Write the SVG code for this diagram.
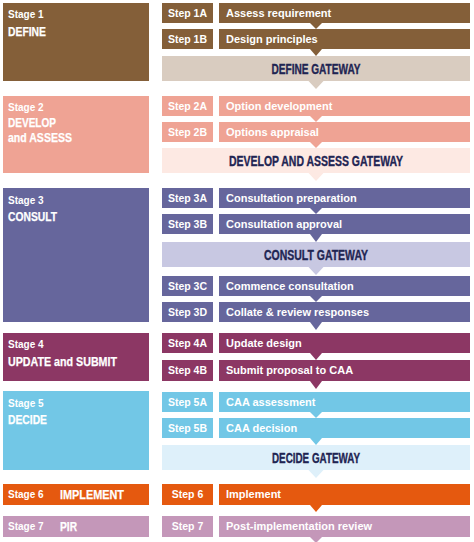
<svg xmlns="http://www.w3.org/2000/svg" width="474" height="542" viewBox="0 0 474 542">
<style>
text{font-family:"Liberation Sans",Arial,sans-serif;font-weight:bold;fill:#fff}
.sl{font-size:10px}
.st{font-size:12.5px;stroke:#fff;stroke-width:0.25}
.sp{font-size:10.5px;text-anchor:middle}
.ds{font-size:11px}
.gw{font-size:14px;fill:#1f2553;stroke:#1f2553;stroke-width:0.35;text-anchor:middle}
.c1{fill:#845f39}.g1{fill:#d9ccc0}
.c2{fill:#efa394}.g2{fill:#fde9e3}
.c3{fill:#66669c}.g3{fill:#c8c8e2}
.c4{fill:#8c3764}
.c5{fill:#72c7e6}.g5{fill:#def0fa}
.c6{fill:#e5590f}
.c7{fill:#c497b9}
</style>
<rect width="474" height="542" fill="#fff"/>
<g id="connectors">
<polygon class="c1" points="310,23 322,23 316,29"/>
<polygon class="c1" points="310,49 322,49 316,56"/>
<polygon class="g1" points="308.5,81 323.5,81 316,89"/>
<polygon class="c2" points="310,116 322,116 316,122"/>
<polygon class="c2" points="310,142 322,142 316,148"/>
<polygon class="g2" points="308.5,173 323.5,173 316,181"/>
<polygon class="c3" points="310,208 322,208 316,214"/>
<polygon class="c3" points="310,234 322,234 316,242"/>
<polygon class="g3" points="308.5,267 323.5,267 316,275"/>
<polygon class="c3" points="310,296 322,296 316,302"/>
<polygon class="c3" points="310,322 322,322 316,330"/>
<polygon class="c4" points="310,353 322,353 316,360"/>
<polygon class="c4" points="310,381 322,381 316,389"/>
<polygon class="c5" points="310,412 322,412 316,418"/>
<polygon class="c5" points="310,438 322,438 316,445"/>
<polygon class="g5" points="308.5,470 323.5,470 316,478"/>
<polygon class="c6" points="310,505 322,505 316,512"/>
<polygon class="c7" points="310,537 322,537 316,543"/>
</g>
<g id="stage1">
<rect class="c1" x="3" y="3" width="146" height="78"/>
<text class="sl" x="8" y="18">Stage 1</text>
<text class="st" x="8" y="36" textLength="38" lengthAdjust="spacingAndGlyphs">DEFINE</text>
</g>
<g id="step1A">
<rect class="c1" x="162" y="3" width="51" height="20"/>
<rect class="c1" x="219" y="3" width="251" height="20"/>
<text class="sp" x="187.5" y="17">Step 1A</text>
<text class="ds" x="226" y="17">Assess requirement</text>
</g>
<g id="step1B">
<rect class="c1" x="162" y="29" width="51" height="20"/>
<rect class="c1" x="219" y="29" width="251" height="20"/>
<text class="sp" x="187.5" y="43">Step 1B</text>
<text class="ds" x="226" y="43">Design principles</text>
</g>
<g id="gateway1">
<rect class="g1" x="162" y="56" width="308" height="25"/>
<text class="gw" x="316" y="74" textLength="89" lengthAdjust="spacingAndGlyphs">DEFINE GATEWAY</text>
</g>
<g id="stage2">
<rect class="c2" x="3" y="96" width="146" height="77"/>
<text class="sl" x="8" y="111">Stage 2</text>
<text class="st" x="8" y="127" textLength="48" lengthAdjust="spacingAndGlyphs">DEVELOP</text>
<text class="st" x="8" y="142" textLength="64" lengthAdjust="spacingAndGlyphs">and ASSESS</text>
</g>
<g id="step2A">
<rect class="c2" x="162" y="96" width="51" height="20"/>
<rect class="c2" x="219" y="96" width="251" height="20"/>
<text class="sp" x="187.5" y="110">Step 2A</text>
<text class="ds" x="226" y="110">Option development</text>
</g>
<g id="step2B">
<rect class="c2" x="162" y="122" width="51" height="20"/>
<rect class="c2" x="219" y="122" width="251" height="20"/>
<text class="sp" x="187.5" y="136">Step 2B</text>
<text class="ds" x="226" y="136">Options appraisal</text>
</g>
<g id="gateway2">
<rect class="g2" x="162" y="148" width="308" height="25"/>
<text class="gw" x="316" y="166" textLength="174" lengthAdjust="spacingAndGlyphs">DEVELOP AND ASSESS GATEWAY</text>
</g>
<g id="stage3">
<rect class="c3" x="3" y="188" width="146" height="134"/>
<text class="sl" x="8" y="204">Stage 3</text>
<text class="st" x="8" y="221" textLength="49" lengthAdjust="spacingAndGlyphs">CONSULT</text>
</g>
<g id="step3A">
<rect class="c3" x="162" y="188" width="51" height="20"/>
<rect class="c3" x="219" y="188" width="251" height="20"/>
<text class="sp" x="187.5" y="202">Step 3A</text>
<text class="ds" x="226" y="202">Consultation preparation</text>
</g>
<g id="step3B">
<rect class="c3" x="162" y="214" width="51" height="20"/>
<rect class="c3" x="219" y="214" width="251" height="20"/>
<text class="sp" x="187.5" y="228">Step 3B</text>
<text class="ds" x="226" y="228">Consultation approval</text>
</g>
<g id="gateway3">
<rect class="g3" x="162" y="242" width="308" height="25"/>
<text class="gw" x="316" y="260" textLength="104" lengthAdjust="spacingAndGlyphs">CONSULT GATEWAY</text>
</g>
<g id="step3C">
<rect class="c3" x="162" y="276" width="51" height="20"/>
<rect class="c3" x="219" y="276" width="251" height="20"/>
<text class="sp" x="187.5" y="290">Step 3C</text>
<text class="ds" x="226" y="290">Commence consultation</text>
</g>
<g id="step3D">
<rect class="c3" x="162" y="302" width="51" height="20"/>
<rect class="c3" x="219" y="302" width="251" height="20"/>
<text class="sp" x="187.5" y="316">Step 3D</text>
<text class="ds" x="226" y="316">Collate &amp; review responses</text>
</g>
<g id="stage4">
<rect class="c4" x="3" y="333" width="146" height="48"/>
<text class="sl" x="8" y="348">Stage 4</text>
<text class="st" x="8" y="366" textLength="109" lengthAdjust="spacingAndGlyphs">UPDATE and SUBMIT</text>
</g>
<g id="step4A">
<rect class="c4" x="162" y="333" width="51" height="20"/>
<rect class="c4" x="219" y="333" width="251" height="20"/>
<text class="sp" x="187.5" y="347">Step 4A</text>
<text class="ds" x="226" y="347">Update design</text>
</g>
<g id="step4B">
<rect class="c4" x="162" y="360" width="51" height="21"/>
<rect class="c4" x="219" y="360" width="251" height="21"/>
<text class="sp" x="187.5" y="374">Step 4B</text>
<text class="ds" x="226" y="374">Submit proposal to CAA</text>
</g>
<g id="stage5">
<rect class="c5" x="3" y="391" width="146" height="79"/>
<text class="sl" x="8" y="407">Stage 5</text>
<text class="st" x="8" y="424" textLength="39" lengthAdjust="spacingAndGlyphs">DECIDE</text>
</g>
<g id="step5A">
<rect class="c5" x="162" y="392" width="51" height="20"/>
<rect class="c5" x="219" y="392" width="251" height="20"/>
<text class="sp" x="187.5" y="406">Step 5A</text>
<text class="ds" x="226" y="406">CAA assessment</text>
</g>
<g id="step5B">
<rect class="c5" x="162" y="418" width="51" height="20"/>
<rect class="c5" x="219" y="418" width="251" height="20"/>
<text class="sp" x="187.5" y="432">Step 5B</text>
<text class="ds" x="226" y="432">CAA decision</text>
</g>
<g id="gateway5">
<rect class="g5" x="162" y="445" width="308" height="25"/>
<text class="gw" x="316" y="463" textLength="88" lengthAdjust="spacingAndGlyphs">DECIDE GATEWAY</text>
</g>
<g id="stage6">
<rect class="c6" x="3" y="484" width="146" height="21"/>
<text class="sl" x="8" y="498">Stage 6</text>
<text class="st" x="60" y="499" textLength="64" lengthAdjust="spacingAndGlyphs">IMPLEMENT</text>
</g>
<g id="step6">
<rect class="c6" x="162" y="484" width="51" height="21"/>
<rect class="c6" x="219" y="484" width="251" height="21"/>
<text class="sp" x="187.5" y="498">Step 6</text>
<text class="ds" x="226" y="498">Implement</text>
</g>
<g id="stage7">
<rect class="c7" x="3" y="516" width="146" height="21"/>
<text class="sl" x="8" y="530">Stage 7</text>
<text class="st" x="60" y="531" textLength="17" lengthAdjust="spacingAndGlyphs">PIR</text>
</g>
<g id="step7">
<rect class="c7" x="162" y="516" width="51" height="21"/>
<rect class="c7" x="219" y="516" width="251" height="21"/>
<text class="sp" x="187.5" y="530">Step 7</text>
<text class="ds" x="226" y="530">Post-implementation review</text>
</g>
</svg>
